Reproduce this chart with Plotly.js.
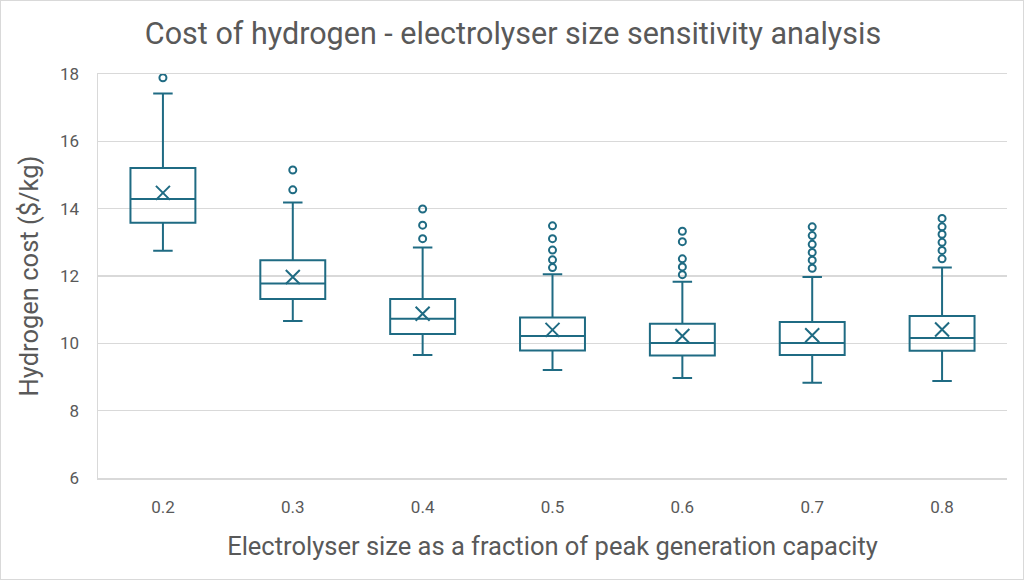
<!DOCTYPE html>
<html>
<head>
<meta charset="utf-8">
<script src="https://cdn.plot.ly/plotly-3.0.1.min.js"></script>
<style>
html,body{margin:0;padding:0;background:#fff;}
#chart{width:1024px;height:580px;box-sizing:border-box;border:1px solid #d9d9d9;}
</style>
</head>
<body>
<div id="chart"></div>
<script>
const categories = ["0.2","0.3","0.4","0.5","0.6","0.7","0.8"];
const lowerWhisker = [12.75, 10.66, 9.65, 9.21, 8.97, 8.83, 8.88];
const q1Values     = [13.58, 11.32, 10.28, 9.79, 9.64, 9.65, 9.78];
const medianValues = [14.29, 11.78, 10.73, 10.22, 10.01, 10.01, 10.16];
const q3Values     = [15.21, 12.47, 11.32, 10.77, 10.58, 10.63, 10.81];
const upperWhisker = [17.42, 14.18, 12.85, 12.05, 11.83, 11.97, 12.25];
const meanValues   = [14.47, 11.97, 10.88, 10.40, 10.22, 10.24, 10.41];
const outliers = [
  [17.89],
  [14.56, 15.15],
  [13.11, 13.51, 13.99],
  [12.25, 12.48, 12.77, 13.11, 13.49],
  [12.04, 12.27, 12.51, 13.02, 13.33],
  [12.23, 12.47, 12.70, 12.94, 13.20, 13.46],
  [12.51, 12.76, 13.00, 13.24, 13.46, 13.71]
];

const teal = "#1f6b83";
const textColor = "#595959";
const fontFamily = "Roboto, 'Open Sans', sans-serif";

const outX = [], outY = [];
outliers.forEach((arr, i) => arr.forEach(v => { outX.push(categories[i]); outY.push(v); }));

const traces = [
  {
    type: "box",
    x: categories,
    q1: q1Values,
    median: medianValues,
    q3: q3Values,
    lowerfence: lowerWhisker,
    upperfence: upperWhisker,
    boxpoints: false,
    width: 0.5,
    whiskerwidth: 0.3,
    fillcolor: "rgba(255,255,255,0)",
    line: {color: teal, width: 2},
    hoverinfo: "skip",
    showlegend: false
  },
  {
    type: "scatter",
    mode: "markers",
    x: categories,
    y: meanValues,
    marker: {symbol: "x-thin-open", size: 14, line: {color: teal, width: 2}, color: teal},
    showlegend: false
  },
  {
    type: "scatter",
    mode: "markers",
    x: outX,
    y: outY,
    marker: {symbol: "circle-open", size: 7, line: {color: teal, width: 2}, color: teal},
    showlegend: false
  }
];

const layout = {
  width: 1024,
  height: 580,
  margin: {l: 97, r: 18, t: 73, b: 103},
  paper_bgcolor: "rgba(0,0,0,0)",
  plot_bgcolor: "#fff",
  font: {family: fontFamily, color: textColor},
  title: {
    text: "Cost of hydrogen - electrolyser size sensitivity analysis",
    font: {size: 30.5, color: textColor, family: fontFamily},
    x: 0.5, xanchor: "center", y: 0.944, yanchor: "middle"
  },
  xaxis: {
    type: "category",
    categoryorder: "array",
    categoryarray: categories,
    range: [-0.5, 6.5],
    showgrid: false,
    zeroline: false,
    showline: true,
    mirror: true,
    linecolor: "#d9d9d9",
    linewidth: 1.5,
    ticks: "",
    ticklabelstandoff: 13,
    tickfont: {size: 17, color: textColor},
    title: {text: "Electrolyser size as a fraction of peak generation capacity", font: {size: 25.5, color: textColor}, standoff: 21}
  },
  yaxis: {
    range: [6, 18],
    dtick: 2,
    tick0: 6,
    showgrid: true,
    gridcolor: "#d9d9d9",
    gridwidth: 1.5,
    zeroline: false,
    showline: true,
    linecolor: "#d9d9d9",
    linewidth: 1.5,
    ticks: "",
    ticklabelstandoff: 14,
    tickfont: {size: 17, color: textColor},
    title: {text: "Hydrogen cost ($/kg)", font: {size: 25.5, color: textColor}, standoff: 14}
  }
};

Plotly.newPlot("chart", traces, layout, {displayModeBar: false, staticPlot: true});
</script>
</body>
</html>
